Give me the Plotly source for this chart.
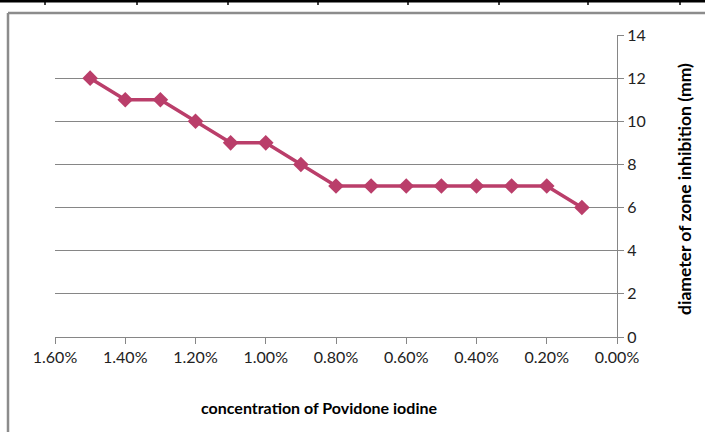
import plotly.graph_objects as go

concentration = [0.015, 0.014, 0.013, 0.012, 0.011, 0.010, 0.009, 0.008,
                 0.007, 0.006, 0.005, 0.004, 0.003, 0.002, 0.001]
diameter = [12, 11, 11, 10, 9, 9, 8, 7, 7, 7, 7, 7, 7, 7, 6]

x_title = "concentration of Povidone iodine"
y_title = "diameter of zone inhibition (mm)"

W, H = 705, 432
L, R, T, B = 55, 617, 35, 337

def px(x):
    return (x - L) / (R - L)

def py(y):
    return (B - y) / (B - T)

FONT = "Lato"
line_color = "#BA3E6A"

fig = go.Figure()
fig.add_trace(go.Scatter(
    x=concentration, y=diameter, mode="lines+markers",
    line=dict(color=line_color, width=3.5),
    marker=dict(symbol="diamond", size=12, color=line_color),
    showlegend=False, cliponaxis=False, hoverinfo="skip",
))

shapes = []
# chart frame (gray)
shapes.append(dict(type="line", xref="paper", yref="paper",
                   x0=px(8), x1=px(720), y0=py(13), y1=py(13),
                   line=dict(color="#8C8C8C", width=2.5)))
shapes.append(dict(type="line", xref="paper", yref="paper",
                   x0=px(8), x1=px(8), y0=py(13), y1=py(440),
                   line=dict(color="#8C8C8C", width=2.5)))
# table border at top
shapes.append(dict(type="line", xref="paper", yref="paper",
                   x0=px(-5), x1=px(710), y0=py(1), y1=py(1),
                   line=dict(color="black", width=3)))
for xv in [45, 137, 228, 318, 408, 499, 588, 680]:
    shapes.append(dict(type="line", xref="paper", yref="paper",
                       x0=px(xv), x1=px(xv), y0=py(1), y1=py(5),
                       line=dict(color="black", width=1.5)))

fig.update_layout(
    width=W, height=H,
    margin=dict(l=L, r=W - R, t=T, b=H - B),
    paper_bgcolor="white", plot_bgcolor="white",
    font=dict(family=FONT, size=16, color="#222222"),
    shapes=shapes,
    hovermode=False,
    xaxis=dict(
        range=[0.016, 0], dtick=0.002, tick0=0, tickformat=".2%",
        showgrid=False, zeroline=False,
        showline=True, linecolor="#868686", linewidth=1,
        ticks="outside", ticklen=6, tickcolor="#868686",
        tickfont=dict(size=16, family=FONT),
    ),
    yaxis=dict(
        range=[0, 14], dtick=2, side="right",
        showgrid=True, gridcolor="#868686", gridwidth=1,
        zeroline=False,
        showline=True, linecolor="#868686", linewidth=1,
        ticks="outside", ticklen=6, tickcolor="#868686",
        tickfont=dict(size=16, family=FONT),
    ),
    annotations=[
        dict(text="<b>" + x_title + "</b>", xref="paper", yref="paper",
             x=px(319), y=py(407), xanchor="center", yanchor="middle",
             showarrow=False, font=dict(size=16, family=FONT, color="black")),
        dict(text="<b>" + y_title + "</b>", xref="paper", yref="paper",
             x=px(685), y=py(189), xanchor="center", yanchor="middle",
             textangle=-90,
             showarrow=False, font=dict(size=17.5, family=FONT, color="black")),
    ],
)

fig.write_html("out.html", config={"displayModeBar": False, "staticPlot": True},
               post_script="document.body.style.margin='0';document.body.style.overflow='hidden';")
